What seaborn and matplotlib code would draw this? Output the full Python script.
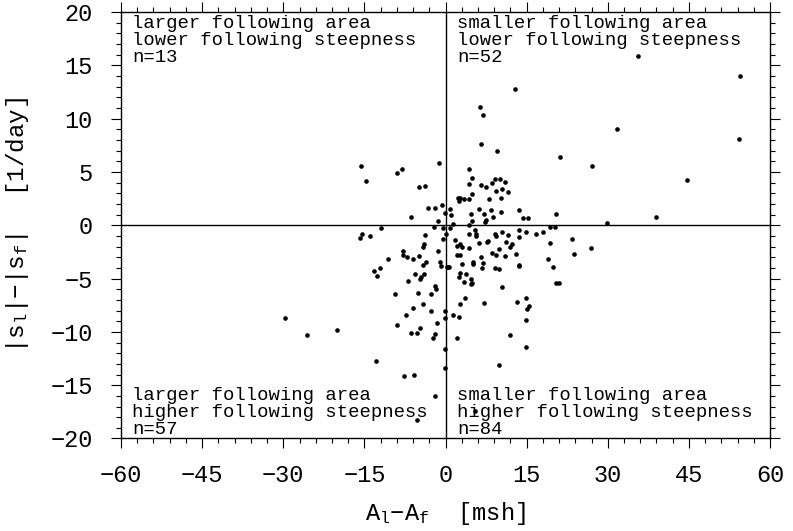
import matplotlib
matplotlib.use("Agg")
import matplotlib.pyplot as plt
import seaborn as sns
import pandas as pd

# (area difference A_l - A_f [msh], steepness difference |s_l| - |s_f| [1/day])
upper_left = [
    (-15.6, 5.54), (-14.7, 4.16), (-8.9, 4.9), (-8.0, 5.3), (-1.2, 5.85),
    (-5.0, 3.6), (-3.8, 3.7), (-3.3, 1.6), (-2.0, 1.6), (-0.7, 1.9),
    (-6.4, 0.8), (-1.4, 0.4), (-0.1, 1.15),
]
upper_right = [
    (2.3, 2.6), (2.5, 2.3), (2.6, 2.6), (0.8, 1.5), (1.1, 1.0), (1.35, 0.1),
    (12.9, 12.8), (6.4, 11.05), (6.85, 10.3), (6.5, 7.6), (9.5, 7.0),
    (21.2, 6.4), (4.4, 5.3), (4.9, 4.4), (4.3, 3.85), (6.5, 3.75), (9.1, 4.3),
    (10.1, 4.3), (10.9, 4.1), (8.5, 4.0), (7.5, 3.6), (10.4, 3.4), (9.3, 3.25),
    (11.5, 3.1), (4.8, 2.9), (3.5, 2.5), (4.3, 2.5), (8.0, 2.45), (10.2, 2.55),
    (4.75, 1.1), (6.2, 1.5), (7.1, 1.1), (8.4, 1.4), (8.8, 0.8), (10.2, 1.2),
    (13.5, 1.4), (14.4, 0.7), (15.2, 0.7), (20.4, 1.1), (4.9, 0.4), (7.3, 0.35),
    (7.5, 0.5), (4.4, 0.05), (35.6, 15.9), (54.4, 14.0), (31.7, 9.05),
    (54.3, 8.1), (27.0, 5.6), (44.6, 4.25), (39.0, 0.75), (29.8, 0.25),
]
lower_left = [
    (-29.6, -8.7), (-25.6, -10.3), (-20.1, -9.8), (-11.9, -0.25), (-2.1, -0.15),
    (-0.55, -0.3), (-15.5, -0.85), (-15.9, -1.2), (-13.9, -1.0), (-3.8, -0.9),
    (-0.43, -1.3), (-3.9, -1.8), (-4.2, -2.0), (-7.9, -2.4), (-7.9, -2.75),
    (-7.2, -3.0), (-6.1, -3.2), (-5.0, -2.9), (-1.35, -2.4), (-10.6, -3.2),
    (-3.7, -3.4), (-4.1, -3.7), (-1.05, -3.4), (-0.9, -3.8), (-13.2, -4.25),
    (-12.1, -4.0), (-12.6, -4.8), (-5.7, -4.6), (-3.9, -4.6), (-4.8, -5.0),
    (-4.6, -4.85), (-7.0, -5.2), (-1.9, -5.7), (-1.8, -5.95), (-9.3, -6.45),
    (-5.05, -6.4), (-2.7, -6.45), (-4.1, -7.35), (-6.0, -7.8), (-2.6, -8.0),
    (-7.3, -8.4), (-1.55, -9.2), (-8.9, -9.4), (-4.7, -9.6), (-6.35, -10.1),
    (-5.2, -10.1), (-1.9, -10.2), (-2.3, -10.6), (-0.13, -11.6), (-12.9, -12.7),
    (-0.13, -13.4), (-7.7, -14.1), (-5.9, -14.05), (-1.9, -16.0), (-5.3, -18.3),
    (-0.05, -8.0), (-0.05, -8.7),
]
lower_right = [
    (0.75, -0.3), (0.06, -0.8), (1.7, -1.4), (2.6, -1.8), (2.1, -1.9),
    (2.1, -2.75), (2.6, -2.75), (0.3, -3.9), (0.7, -3.9), (0.5, -3.95),
    (2.6, -4.45), (2.5, -4.85), (2.6, -7.35), (1.35, -8.4), (2.5, -8.6),
    (2.2, -10.6), (12.0, -10.3), (14.9, -11.4), (9.9, -13.1), (5.4, -17.4),
    (5.5, -0.4), (13.5, -0.4), (19.4, -0.15), (20.2, -0.15), (3.1, -2.0),
    (4.26, -0.85), (5.7, -0.85), (5.56, -1.03), (4.26, -2.1), (6.2, -1.7),
    (7.7, -1.6), (7.9, -1.5), (9.2, -0.8), (9.3, -1.0), (10.4, -0.6),
    (11.6, -0.9), (11.2, -1.6), (12.2, -1.8), (11.85, -2.0), (9.8, -2.2),
    (8.6, -2.6), (9.4, -2.8), (11.0, -2.9), (13.1, -2.7), (13.5, -1.1),
    (14.9, -0.6), (16.8, -0.8), (18.1, -0.6), (19.3, -1.7), (18.9, -3.2),
    (19.9, -3.9), (20.4, -5.45), (21.05, -5.45), (13.5, -3.7), (13.6, -3.85),
    (3.0, -3.6), (5.0, -3.4), (5.06, -3.6), (6.5, -3.0), (6.85, -3.5),
    (6.7, -4.0), (3.8, -4.6), (4.75, -5.0), (3.5, -5.3), (4.7, -5.5),
    (4.8, -5.4), (9.2, -4.0), (9.8, -4.1), (10.4, -5.76), (3.65, -6.8),
    (7.2, -7.3), (13.2, -7.2), (14.9, -6.85), (15.5, -7.6), (15.1, -7.9),
    (14.8, -8.9), (23.3, -1.3), (26.8, -2.1), (23.8, -2.7),
]

# events counted in each quadrant: upper left, upper right, lower left, lower right
quadrant_n = [13, 52, 57, 84]
quadrant_lines = [
    ["larger following area", "lower following steepness"],
    ["smaller following area", "lower following steepness"],
    ["larger following area", "higher following steepness"],
    ["smaller following area", "higher following steepness"],
]

x_ticks = [-60, -45, -30, -15, 0, 15, 30, 45, 60]
y_ticks = [-20, -15, -10, -5, 0, 5, 10, 15, 20]

points = upper_left + upper_right + lower_left + lower_right
df = pd.DataFrame(points, columns=["area", "steep"])

sns.set_theme(style="ticks")
mono = "Liberation Mono"
plt.rcParams["font.family"] = [mono, "DejaVu Sans"]
plt.rcParams["mathtext.fontset"] = "custom"
plt.rcParams["mathtext.rm"] = mono
plt.rcParams["mathtext.it"] = mono

fig = plt.figure(figsize=(7.93, 5.31), dpi=100)
ax = fig.add_axes([0.1526, 0.1742, 0.8185, 0.8032])

ax.axhline(0, color="black", lw=1.0, zorder=1)
ax.axvline(0, color="black", lw=1.0, zorder=1)

sns.scatterplot(data=df, x="area", y="steep", ax=ax, color="black",
                s=11, linewidth=0, zorder=3, legend=False)

ax.set_xlim(-60, 60)
ax.set_ylim(-20, 20)
ax.set_xticks(x_ticks)
ax.set_yticks(y_ticks)
ax.set_xticklabels([f"{v:d}".replace("-", "\u2212") for v in x_ticks])
ax.set_yticklabels([f"{v:d}".replace("-", "\u2212") for v in y_ticks])
ax.set_xticks(range(-60, 61, 3), minor=True)
ax.set_yticks(range(-20, 21, 1), minor=True)
ax.tick_params(which="both", direction="out", top=True, right=True,
               color="black", width=0.8)
ax.tick_params(which="major", length=7.2, labelsize=17, labelcolor="black")
ax.tick_params(axis="x", which="major", pad=11)
ax.tick_params(axis="y", which="major", pad=13)
ax.tick_params(which="minor", length=3.6)
for sp in ax.spines.values():
    sp.set_color("black")
    sp.set_linewidth(1.0)

ax.set_xlabel(r"A$_\mathregular{l}$" "\u2212" r"A$_\mathregular{f}$  [msh]",
              fontsize=17, color="black", labelpad=9.5)
ax.set_ylabel(r"|s$_\mathregular{l}$|" "\u2212"
              r"|s$_\mathregular{f}$|  $\;$[1/day]",
              fontsize=17.5, color="black", labelpad=14)

# quadrant annotations: baseline of the last ("n=") line in axes fraction
fs = 13.6
placements = [(0.017, 0.883), (0.518, 0.883), (0.017, 0.0098), (0.518, 0.0098)]
for (xpos, ypos), lines, n in zip(placements, quadrant_lines, quadrant_n):
    ax.text(xpos, ypos, "\n".join(lines + [f"n={n}"]), transform=ax.transAxes,
            fontsize=fs, family=mono, va="baseline", ha="left",
            linespacing=1.01, color="black", zorder=4)

fig.savefig("out.png", dpi=100, facecolor="white")
